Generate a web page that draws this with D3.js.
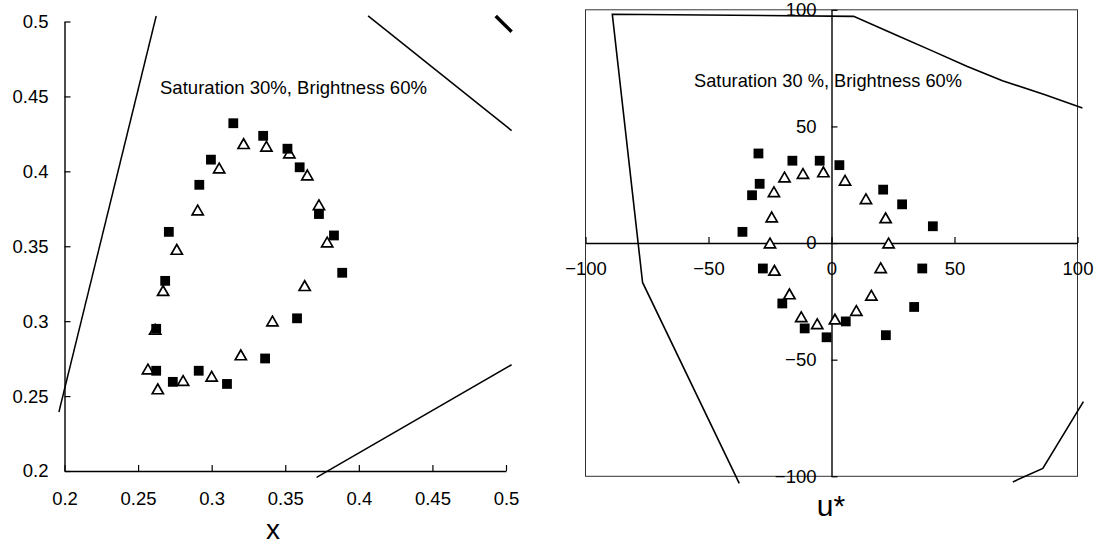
<!DOCTYPE html>
<html>
<head>
<meta charset="utf-8">
<script src="https://cdn.jsdelivr.net/npm/d3@7"></script>
<style>
  body { margin: 0; background: #fff; }
  svg { display: block; }
</style>
</head>
<body>
<svg id="chart" width="1097" height="547"></svg>
<script>
// ---- left panel: chromaticity x,y ----
const xyFilled = [
  [0.3147, 0.4321], [0.3350, 0.4237], [0.3515, 0.4151], [0.3598, 0.4027],
  [0.3729, 0.3715], [0.3831, 0.3572], [0.3887, 0.3323], [0.3580, 0.3019],
  [0.3363, 0.2751], [0.3104, 0.2581], [0.2912, 0.2669], [0.2736, 0.2595],
  [0.2623, 0.2669], [0.2623, 0.2949], [0.2684, 0.3269], [0.2709, 0.3596],
  [0.2916, 0.3910], [0.2995, 0.4078]
];
const xyOpen = [
  [0.3217, 0.4185], [0.3372, 0.4167], [0.3528, 0.4122], [0.3650, 0.3976],
  [0.3729, 0.3777], [0.3785, 0.3528], [0.3632, 0.3237], [0.3413, 0.3001],
  [0.3198, 0.2775], [0.3000, 0.2632], [0.2806, 0.2604], [0.2634, 0.2548],
  [0.2567, 0.2681], [0.2616, 0.2945], [0.2670, 0.3204], [0.2763, 0.3479],
  [0.2905, 0.3742], [0.3051, 0.4022]
];
const xyBounds = [
  [[0.1962, 0.2394], [0.2623, 0.5037]],
  [[0.4063, 0.5037], [0.5038, 0.4272]],
  [[0.3713, 0.1958], [0.5038, 0.2709]]
];
const xyBoundThick = [[0.4930, 0.5037], [0.5038, 0.4932]];
const xyTicks = [0.2, 0.25, 0.3, 0.35, 0.4, 0.45, 0.5];

// ---- right panel: u*, v* ----
const uvFilled = [
  [-29.7, 38.4], [-29.2, 25.4], [-32.3, 20.5], [-15.9, 35.3], [-4.8, 35.3],
  [3.2, 33.4], [21.0, 22.9], [28.7, 16.6], [41.2, 7.2], [-36.2, 4.8],
  [-27.9, -10.9], [36.9, -10.9], [-20.0, -25.9], [33.6, -27.4], [-10.9, -36.6],
  [5.8, -33.6], [-2.0, -40.4], [22.1, -39.5]
];
const uvOpen = [
  [-23.4, 22.0], [-19.1, 28.3], [-11.6, 29.8], [-3.3, 30.5], [5.5, 26.9],
  [14.0, 19.0], [22.0, 10.8], [23.2, 0], [20.0, -10.6], [16.2, -22.4],
  [10.1, -28.9], [1.4, -32.6], [-5.8, -34.6], [-12.3, -31.6], [-17.1, -21.8],
  [-23.2, -11.7], [-25.0, 0], [-24.3, 11.2]
];
const uvBounds = [
  [[-37.5, -103.0], [-76.8, -16.9], [-89.1, 98.1], [9.0, 97.2], [26.0, 89.3],
   [40.5, 82.6], [55.0, 75.8], [69.5, 69.6], [86.8, 63.6], [102.0, 57.9]],
  [[73.7, -102.4], [85.9, -96.6], [102.4, -68.0]]
];
const uvTicks = [-100, -50, 0, 50, 100];

const noteLeft = "Saturation 30%, Brightness 60%";
const noteRight = "Saturation 30 %, Brightness 60%";
const font = "'Liberation Sans', Arial, sans-serif";

const svg = d3.select("#chart");

// a triangle centred on its bounding box
const triBox = {
  draw(ctx, size) {
    const w = Math.sqrt(size), h = w * 0.87;
    ctx.moveTo(0, -h / 2);
    ctx.lineTo(w / 2, h / 2);
    ctx.lineTo(-w / 2, h / 2);
    ctx.closePath();
  }
};

function styleAxis(g) {
  g.select(".domain").attr("stroke", "#000").attr("stroke-width", 1.4);
  g.selectAll(".tick line").attr("stroke", "#000").attr("stroke-width", 1.2);
  g.selectAll(".tick text")
    .attr("fill", "#000")
    .style("font-family", font)
    .style("font-size", "18.5px");
}

function drawMarks(g, x, y, filled, open) {
  g.append("g").selectAll("path")
    .data(open)
    .join("path")
      .attr("d", d3.symbol(triBox, 125))
      .attr("transform", d => "translate(" + x(d[0]) + "," + y(d[1]) + ")")
      .attr("fill", "#fff")
      .attr("stroke", "#000")
      .attr("stroke-width", 1.7);

  g.append("g").selectAll("path")
    .data(filled)
    .join("path")
      .attr("d", d3.symbol(d3.symbolSquare, 96))
      .attr("transform", d => "translate(" + x(d[0]) + "," + y(d[1]) + ")")
      .attr("fill", "#000");
}

// ================= left panel =================
const xL = d3.scaleLinear([0.2, 0.5], [64.5, 506]);
const yL = d3.scaleLinear([0.2, 0.5], [471, 21.5]);
const left = svg.append("g");

left.append("g")
  .attr("transform", "translate(0," + yL(0.2) + ")")
  .call(d3.axisBottom(xL).tickValues(xyTicks).tickFormat(d3.format("~g"))
    .tickSizeInner(-6).tickSizeOuter(0).tickPadding(21))
  .call(styleAxis);

left.append("g")
  .attr("transform", "translate(" + xL(0.2) + ",0)")
  .call(d3.axisLeft(yL).tickValues(xyTicks).tickFormat(d3.format("~g"))
    .tickSizeInner(-6).tickSizeOuter(0).tickPadding(16))
  .call(styleAxis);

const lineL = d3.line().x(d => xL(d[0])).y(d => yL(d[1]));
left.selectAll(".bound")
  .data(xyBounds)
  .join("path")
    .attr("class", "bound")
    .attr("d", lineL)
    .attr("fill", "none")
    .attr("stroke", "#000")
    .attr("stroke-width", 1.5);
left.append("path")
  .attr("d", lineL(xyBoundThick))
  .attr("fill", "none")
  .attr("stroke", "#000")
  .attr("stroke-width", 3.5);

left.append("text")
  .attr("x", 160).attr("y", 93.5)
  .attr("textLength", 267).attr("lengthAdjust", "spacingAndGlyphs")
  .style("font-family", font).style("font-size", "19px")
  .text(noteLeft);

drawMarks(left, xL, yL, xyFilled, xyOpen);

left.append("text")
  .attr("x", 273).attr("y", 539)
  .attr("text-anchor", "middle")
  .style("font-family", font).style("font-size", "28px")
  .text("x");

// ================= right panel =================
const xR = d3.scaleLinear([-100, 100], [585.5, 1077.5]);
const yR = d3.scaleLinear([-100, 100], [476.3, 9.8]);
const right = svg.append("g");

right.append("rect")
  .attr("x", xR(-100)).attr("y", yR(100))
  .attr("width", xR(100) - xR(-100)).attr("height", yR(-100) - yR(100))
  .attr("fill", "none")
  .attr("stroke", "#333")
  .attr("stroke-width", 1);

right.append("g")
  .attr("transform", "translate(0," + yR(0) + ")")
  .call(d3.axisBottom(xR).tickValues(uvTicks)
    .tickSizeInner(-6).tickSizeOuter(0).tickPadding(19))
  .call(styleAxis);

right.append("g")
  .attr("transform", "translate(" + xR(0) + ",0)")
  .call(d3.axisLeft(yR).tickValues(uvTicks)
    .tickSizeInner(-6).tickSizeOuter(0).tickPadding(15))
  .call(styleAxis);

const lineR = d3.line().x(d => xR(d[0])).y(d => yR(d[1]));
right.selectAll(".bound")
  .data(uvBounds)
  .join("path")
    .attr("class", "bound")
    .attr("d", lineR)
    .attr("fill", "none")
    .attr("stroke", "#000")
    .attr("stroke-width", 1.6);

right.append("text")
  .attr("x", 694).attr("y", 87)
  .attr("textLength", 268).attr("lengthAdjust", "spacingAndGlyphs")
  .style("font-family", font).style("font-size", "18.5px")
  .text(noteRight);

drawMarks(right, xR, yR, uvFilled, uvOpen);

right.append("text")
  .attr("x", 831).attr("y", 516)
  .attr("text-anchor", "middle")
  .style("font-family", font).style("font-size", "30px")
  .text("u*");
</script>
</body>
</html>
